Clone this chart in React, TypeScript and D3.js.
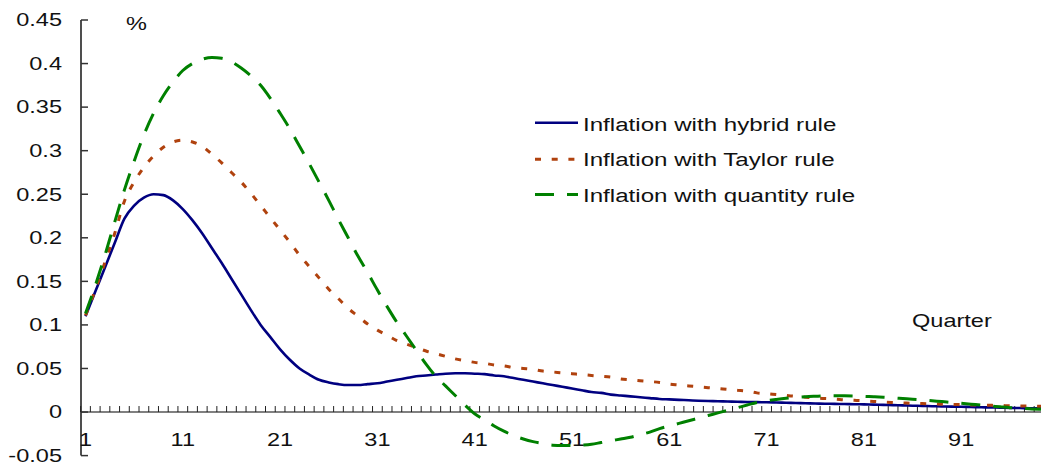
import React from "react";
import * as d3 from "d3";

const quarters: number[] = Array.from({ length: 100 }, (_, i) => i + 1);

const hybrid: number[] = [
  0.110, 0.138, 0.166, 0.194, 0.222, 0.237, 0.246, 0.250, 0.249, 0.243,
  0.233, 0.220, 0.205, 0.188, 0.171, 0.153, 0.135, 0.117, 0.100, 0.086,
  0.072, 0.060, 0.050, 0.043, 0.037, 0.034, 0.032, 0.031, 0.031, 0.032,
  0.033, 0.035, 0.037, 0.039, 0.041, 0.042, 0.043, 0.044, 0.0445, 0.0445,
  0.044, 0.0435, 0.042, 0.041, 0.039, 0.037, 0.035, 0.033, 0.031, 0.029,
  0.027, 0.025, 0.023, 0.022, 0.020, 0.019, 0.018, 0.017, 0.016, 0.015,
  0.0145, 0.014, 0.0135, 0.013, 0.0127, 0.0124, 0.0121, 0.0118, 0.0116, 0.0114,
  0.0112, 0.011, 0.0107, 0.0104, 0.0101, 0.0098, 0.0096, 0.0094, 0.0092, 0.009,
  0.0088, 0.0085, 0.0082, 0.0079, 0.0076, 0.0073, 0.007, 0.0067, 0.0064, 0.0062,
  0.006, 0.0058, 0.0055, 0.0053, 0.005, 0.0048, 0.0046, 0.0044, 0.0042, 0.004,
];

const taylor: number[] = [
  0.111, 0.140, 0.172, 0.205, 0.242, 0.264, 0.281, 0.294, 0.304, 0.310,
  0.312, 0.310, 0.305, 0.296, 0.286, 0.275, 0.264, 0.251, 0.237, 0.223,
  0.209, 0.195, 0.180, 0.167, 0.154, 0.141, 0.130, 0.119, 0.110, 0.101,
  0.094, 0.088, 0.082, 0.078, 0.074, 0.070, 0.067, 0.064, 0.061, 0.059,
  0.057, 0.056, 0.054, 0.053, 0.051, 0.050, 0.049, 0.047, 0.046, 0.045,
  0.044, 0.043, 0.042, 0.041, 0.040, 0.038, 0.037, 0.036, 0.035, 0.034,
  0.032, 0.031, 0.030, 0.029, 0.028, 0.027, 0.026, 0.025, 0.024, 0.022,
  0.021, 0.020, 0.019, 0.018, 0.017, 0.016, 0.0155, 0.015, 0.014, 0.0135,
  0.013, 0.0122, 0.0115, 0.011, 0.0105, 0.010, 0.0097, 0.0094, 0.009, 0.0088,
  0.0085, 0.0082, 0.008, 0.0077, 0.0075, 0.0072, 0.007, 0.0068, 0.0066, 0.0064,
];

const quantity: number[] = [
  0.113, 0.145, 0.180, 0.218, 0.255, 0.288, 0.318, 0.343, 0.363, 0.379,
  0.392, 0.400, 0.405, 0.407, 0.406, 0.402, 0.395, 0.386, 0.375, 0.360,
  0.343, 0.325, 0.305, 0.285, 0.264, 0.243, 0.221, 0.200, 0.179, 0.160,
  0.140, 0.121, 0.103, 0.087, 0.071, 0.055, 0.041, 0.030, 0.019, 0.008,
  -0.002, -0.009, -0.016, -0.022, -0.027, -0.031, -0.034, -0.036, -0.038, -0.0385,
  -0.0385, -0.038, -0.037, -0.035, -0.033, -0.031, -0.029, -0.026, -0.023, -0.019,
  -0.016, -0.013, -0.010, -0.007, -0.004, -0.001, 0.002, 0.005, 0.008, 0.011,
  0.013, 0.0145, 0.0158, 0.0168, 0.0176, 0.0181, 0.0185, 0.0187, 0.0187, 0.0185,
  0.018, 0.0175, 0.017, 0.0163, 0.0155, 0.0147, 0.014, 0.013, 0.012, 0.011,
  0.010, 0.009, 0.008, 0.007, 0.006, 0.005, 0.0043, 0.0037, 0.0032, 0.0028,
];

const yTicks: number[] = [-0.05, 0, 0.05, 0.1, 0.15, 0.2, 0.25, 0.3, 0.35, 0.4, 0.45];
const yTickLabels: string[] = ["-0.05", "0", "0.05", "0.1", "0.15", "0.2", "0.25", "0.3", "0.35", "0.4", "0.45"];
const xLabelQuarters: number[] = [1, 11, 21, 31, 41, 51, 61, 71, 81, 91];

const seriesNames: string[] = [
  "Inflation with hybrid rule",
  "Inflation with Taylor rule",
  "Inflation with quantity rule",
];

const W = 1041;
const H = 466;
const FONT = "'Liberation Sans', Arial, Helvetica, sans-serif";
const SX = 1.33;

export default function App() {
  const x = d3.scaleLinear().domain([1, 100]).range([85.5, 85.5 + 99 * 9.73]);
  const y = d3.scaleLinear().domain([-0.05, 0.45]).range([455.6, 20]);

  const line = d3
    .line<number>()
    .x((_, i) => x(quarters[i]))
    .y((d) => y(d))
    .curve(d3.curveMonotoneX);

  const series = [
    { name: seriesNames[0], data: hybrid, color: "#000080", dash: undefined as string | undefined, width: 2.6 },
    { name: seriesNames[1], data: taylor, color: "#B0420E", dash: "6,10.7", width: 3 },
    { name: seriesNames[2], data: quantity, color: "#008000", dash: "19,13", width: 3 },
  ];

  const axisX = 81;
  const tickPositions = d3.range(0.5, 100.5, 1);

  const legendX0 = 535;
  const legendX1 = 578;
  const legendLineY = [122.7, 159.3, 194.5];
  const legendTextY = [130.7, 166.2, 201.7];

  return (
    <svg
      width={W}
      height={H}
      style={{ position: "absolute", left: 0, top: 0, background: "#fff" }}
      fontFamily={FONT}
    >
      <defs>
        <clipPath id="plotclip">
          <rect x={0} y={0} width={W} height={H} />
        </clipPath>
      </defs>
      <rect x={0} y={0} width={W} height={H} fill="#fff" />

      {/* x axis line at zero */}
      <line x1={axisX} x2={W} y1={y(0)} y2={y(0)} stroke="#808080" strokeWidth={2} />
      {tickPositions.map((q) => (
        <line
          key={"xt" + q}
          x1={x(q)}
          x2={x(q)}
          y1={y(0) - 6}
          y2={y(0)}
          stroke="#222"
          strokeWidth={1}
        />
      ))}

      {/* y axis */}
      <line x1={axisX} x2={axisX} y1={y(0.45)} y2={y(-0.05)} stroke="#222" strokeWidth={1.6} />
      {yTicks.map((t, i) => (
        <g key={"yt" + i}>
          <line x1={axisX} x2={axisX + 7} y1={y(t)} y2={y(t)} stroke="#333" strokeWidth={1.5} />
          <text
            transform={`translate(62,${y(t) + 6.3}) scale(${SX},1)`}
            textAnchor="end"
            fontSize={17.7}
            fill="#111"
          >
            {yTickLabels[i]}
          </text>
        </g>
      ))}

      {/* x labels */}
      {xLabelQuarters.map((q) => (
        <text
          key={"xl" + q}
          transform={`translate(${x(q)},446) scale(${SX},1)`}
          textAnchor="middle"
          fontSize={17.7}
          fill="#111"
        >
          {q}
        </text>
      ))}

      {/* series */}
      <g clipPath="url(#plotclip)">
        {series.map((s) => (
          <path
            key={s.name}
            d={line(s.data) || ""}
            fill="none"
            stroke={s.color}
            strokeWidth={s.width}
            strokeDasharray={s.dash}
            strokeLinejoin="round"
          />
        ))}
      </g>

      {/* annotations */}
      <text transform={`translate(126,30) scale(${SX},1)`} fontSize={17.7} fill="#111">
        %
      </text>
      <text transform={`translate(912,327) scale(${SX},1)`} fontSize={17.7} fill="#111">
        Quarter
      </text>

      {/* legend */}
      {series.map((s, i) => (
        <g key={"lg" + i}>
          <line
            x1={legendX0}
            x2={legendX1}
            y1={legendLineY[i]}
            y2={legendLineY[i]}
            stroke={s.color}
            strokeWidth={s.width}
            strokeDasharray={s.dash}
          />
          <text
            transform={`translate(583,${legendTextY[i]}) scale(1.27,1)`}
            fontSize={19}
            fill="#111"
          >
            {s.name}
          </text>
        </g>
      ))}
    </svg>
  );
}
